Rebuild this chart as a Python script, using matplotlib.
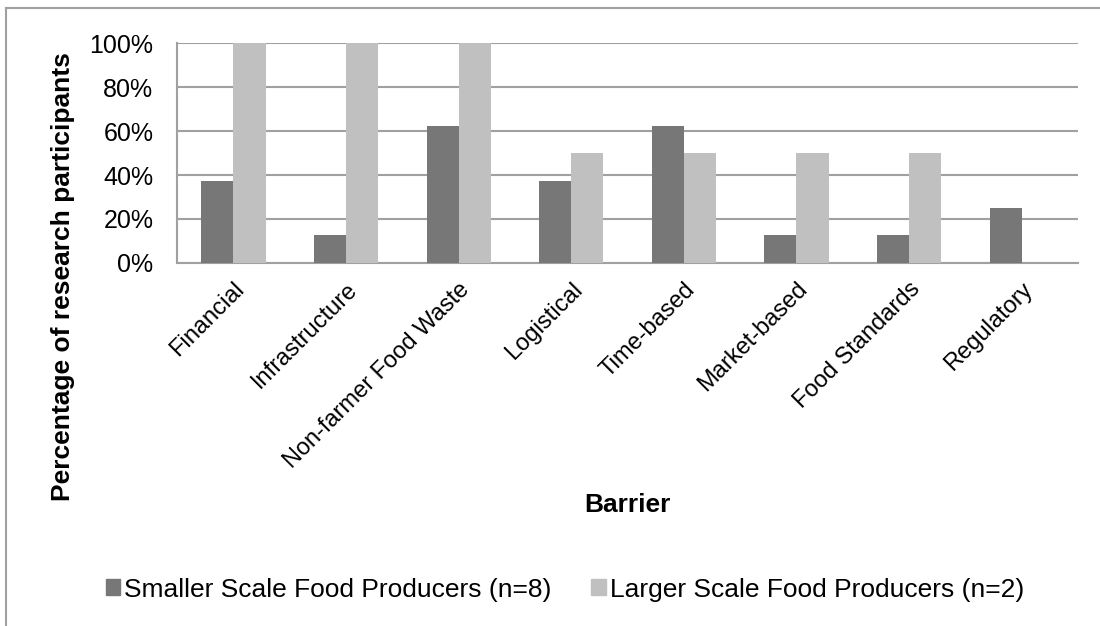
import matplotlib.pyplot as plt
import numpy as np
from matplotlib.lines import Line2D
from matplotlib.patches import Rectangle

plt.rcParams['font.family'] = ['Liberation Sans', 'DejaVu Sans']

barriers = ['Financial', 'Infrastructure', 'Non-farmer Food Waste', 'Logistical',
            'Time-based', 'Market-based', 'Food Standards', 'Regulatory']
smaller = [37.5, 12.5, 62.5, 37.5, 62.5, 12.5, 12.5, 25.0]
larger = [100, 100, 100, 50, 50, 50, 50, 0]
series_names = ['Smaller Scale Food Producers (n=8)', 'Larger Scale Food Producers (n=2)']
dark = '#777777'
light = '#c0c0c0'
grid_col = '#a0a0a0'

fig = plt.figure(figsize=(11, 6.26), dpi=100)
ax = fig.add_axes((0.161, 0.580, 0.819, 0.351))

x = np.arange(len(barriers))
w = 0.285
ax.bar(x - w / 2, smaller, w, color=dark, zorder=3)
ax.bar(x + w / 2, larger, w, color=light, zorder=3)

ax.set_xlim(-0.5, len(barriers) - 0.5)
ax.set_ylim(0, 100)
ax.set_yticks(range(0, 101, 20))
ax.set_yticklabels([f'{v}%' for v in range(0, 101, 20)], fontsize=18)
ax.set_xticks(x)
ax.set_xticklabels(barriers, rotation=45, ha='right', rotation_mode='anchor', fontsize=17)
ax.tick_params(axis='y', length=0, pad=17)
ax.tick_params(axis='x', length=0, pad=11)

ax.yaxis.grid(True, color=grid_col, linewidth=1.5, zorder=0)
for s in ['top', 'right']:
    ax.spines[s].set_visible(False)
for s in ['left', 'bottom']:
    ax.spines[s].set_color(grid_col)
    ax.spines[s].set_linewidth(1.5)

fig.text(0.057, 0.5575, 'Percentage of research participants', rotation=90,
         ha='center', va='center', fontsize=19, fontweight='bold')
fig.text(0.5705, 0.193, 'Barrier', ha='center', va='center', fontsize=19,
         fontweight='bold')

handles = [Rectangle((0, 0), 1, 1, color=dark), Rectangle((0, 0), 1, 1, color=light)]
fig.legend(handles, series_names, loc='center', bbox_to_anchor=(0.5136, 0.058), ncol=2,
           frameon=False, fontsize=19, handlelength=0.55, handleheight=0.55,
           handletextpad=0.15, columnspacing=1.5, borderpad=0, borderaxespad=0)

# outer chart border (left and top visible)
fig.add_artist(Line2D([0.0055, 0.0055], [0, 0.987], color=grid_col, linewidth=1.5,
                      transform=fig.transFigure))
fig.add_artist(Line2D([0.0055, 1], [0.987, 0.987], color=grid_col, linewidth=1.5,
                      transform=fig.transFigure))

fig.savefig('out.png', dpi=100)
